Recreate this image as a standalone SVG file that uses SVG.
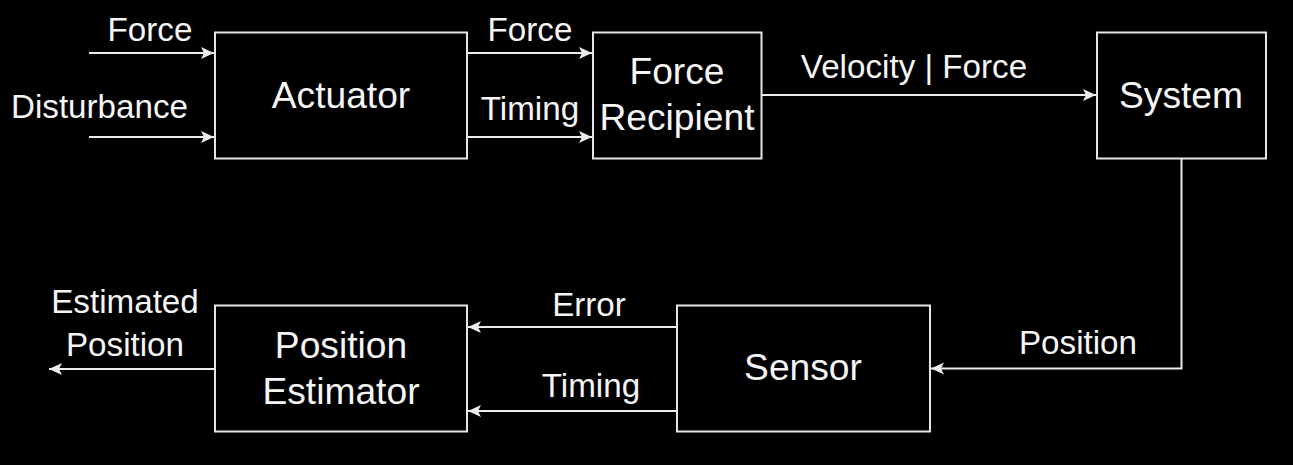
<svg xmlns="http://www.w3.org/2000/svg" width="1293" height="465" viewBox="0 0 1293 465">
<style>
.bg{fill:#000}
.box{fill:#000;stroke:#e6e6e6;stroke-width:2}
.edge{fill:none;stroke:#ececec;stroke-width:2}
.nl{font-family:"Liberation Sans",Arial,sans-serif;font-size:37.2px;fill:#f5f5f5;text-anchor:middle}
.el{font-family:"Liberation Sans",Arial,sans-serif;font-size:33.2px;fill:#f5f5f5;text-anchor:middle}
</style>
<defs>
<marker id="arr" markerUnits="userSpaceOnUse" markerWidth="16" markerHeight="16" viewBox="-14 -8 16 16" refX="0" refY="0" orient="auto" overflow="visible">
<path d="M-13,-6 L0,0 L-13,6 L-10,0 Z" fill="#ececec"/>
</marker>
</defs>
<rect class="bg" x="0" y="0" width="1293" height="465"/>
<g id="connectors">
<line class="edge" x1="89" y1="53" x2="214" y2="53" marker-end="url(#arr)"/>
<line class="edge" x1="89" y1="137" x2="214" y2="137" marker-end="url(#arr)"/>
<line class="edge" x1="467" y1="53" x2="592" y2="53" marker-end="url(#arr)"/>
<line class="edge" x1="467" y1="137" x2="592" y2="137" marker-end="url(#arr)"/>
<line class="edge" x1="762" y1="95" x2="1096" y2="95" marker-end="url(#arr)"/>
<polyline class="edge" points="1181.5,158 1181.5,368.5 931,368.5" marker-end="url(#arr)"/>
<line class="edge" x1="677" y1="327" x2="468" y2="327" marker-end="url(#arr)"/>
<line class="edge" x1="677" y1="411" x2="468" y2="411" marker-end="url(#arr)"/>
<line class="edge" x1="215" y1="369" x2="49" y2="369" marker-end="url(#arr)"/>
<text class="el" x="150" y="41">Force</text>
<text class="el" x="99.5" y="118">Disturbance</text>
<text class="el" x="530" y="41">Force</text>
<text class="el" x="530" y="120">Timing</text>
<text class="el" x="914" y="78">Velocity | Force</text>
<text class="el" x="1078" y="353.5">Position</text>
<text class="el" x="589" y="315.5">Error</text>
<text class="el" x="591" y="397">Timing</text>
<text class="el" x="125" y="313">Estimated</text>
<text class="el" x="125" y="356">Position</text>
</g>
<g id="actuator">
<rect class="box" x="215" y="32.5" width="252" height="126"/>
<text class="nl" x="341" y="108">Actuator</text>
</g>
<g id="force-recipient">
<rect class="box" x="593" y="32.5" width="168.5" height="126"/>
<text class="nl" x="677" y="83.5">Force</text>
<text class="nl" x="677" y="129.5">Recipient</text>
</g>
<g id="system">
<rect class="box" x="1097" y="32.5" width="169" height="126"/>
<text class="nl" x="1181" y="108">System</text>
</g>
<g id="sensor">
<rect class="box" x="677" y="305.5" width="253" height="126"/>
<text class="nl" x="803" y="380">Sensor</text>
</g>
<g id="position-estimator">
<rect class="box" x="215" y="305.5" width="252" height="126"/>
<text class="nl" x="341" y="358">Position</text>
<text class="nl" x="341" y="404">Estimator</text>
</g>
</svg>
